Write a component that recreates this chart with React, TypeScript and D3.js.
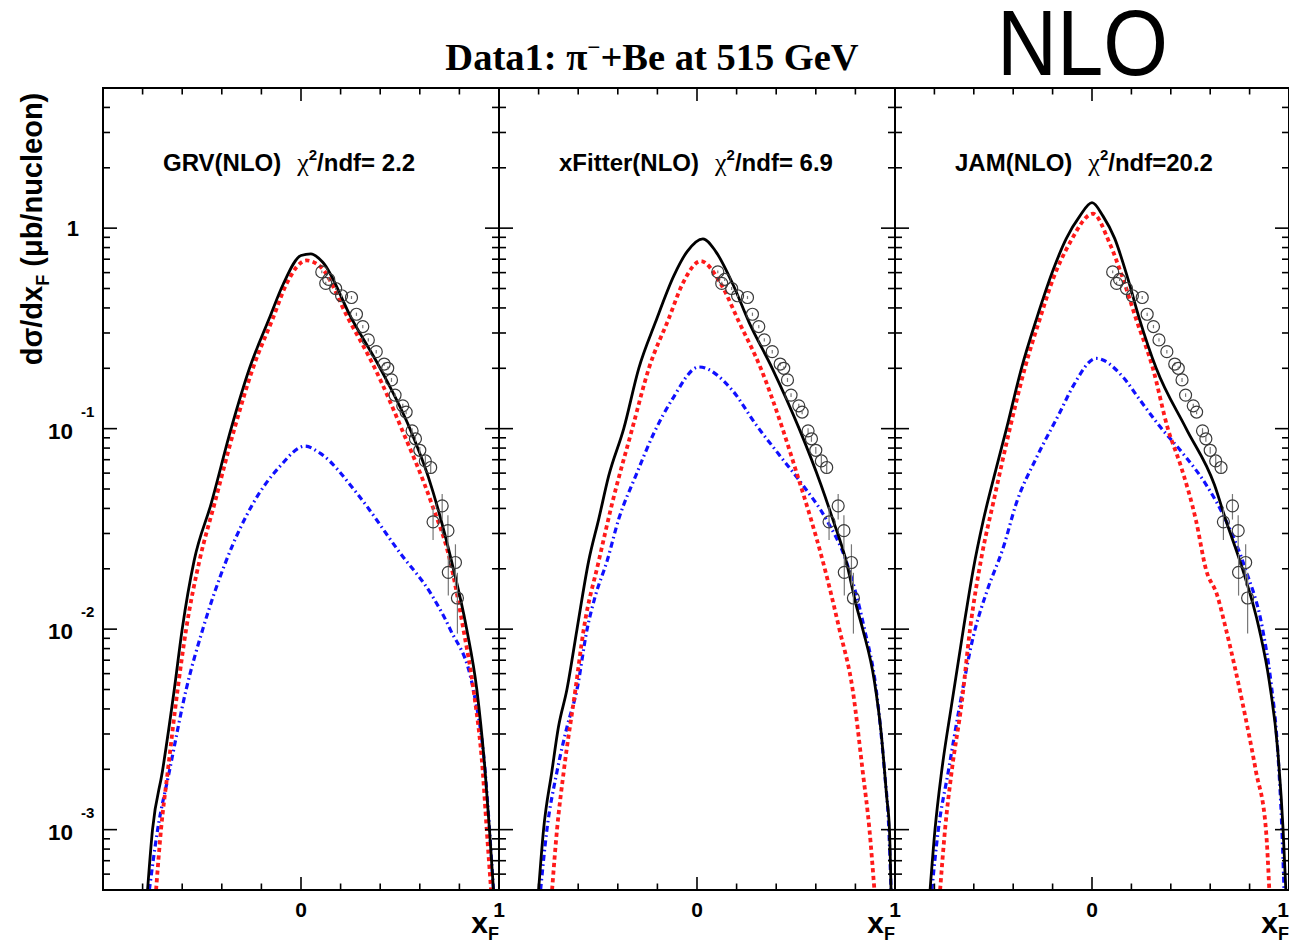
import React from 'react';
import * as d3 from 'd3';

// ---------- labels ----------
const panelNames = ['GRV(NLO)', 'xFitter(NLO)', 'JAM(NLO)'];
const chi2Values = ['= 2.2', '= 6.9', '=20.2'];
const xTickMinor = [-0.8, -0.6, -0.4, -0.2, 0.2, 0.4, 0.6, 0.8];
const xTickMajor = [0];
const yDecades = [1, 0.1, 0.01, 0.001];
const yDecadeExp = ['', '-1', '-2', '-3'];

// ---------- measured data (same in all panels) ----------
const dataX = [0.105, 0.125, 0.14, 0.175, 0.205, 0.255, 0.28, 0.312, 0.34, 0.38, 0.42, 0.438, 0.457, 0.475, 0.514, 0.531, 0.561, 0.578, 0.6, 0.628, 0.655, 0.667, 0.713, 0.742, 0.744, 0.78, 0.79];
const dataY = [0.605, 0.53, 0.555, 0.5, 0.46, 0.451, 0.372, 0.323, 0.277, 0.242, 0.21, 0.2, 0.175, 0.147, 0.13, 0.121, 0.0975, 0.089, 0.078, 0.069, 0.064, 0.0343, 0.0412, 0.031, 0.0192, 0.0215, 0.0143];
const dataErr = [0.01, 0.01, 0.01, 0.009, 0.008, 0.008, 0.007, 0.006, 0.005, 0.005, 0.004, 0.004, 0.004, 0.003, 0.003, 0.003, 0.003, 0.003, 0.003, 0.004, 0.004, 0.0065, 0.006, 0.006, 0.0045, 0.005, 0.0048];

// ---------- GRV ----------
const grvTotalX = [-0.775, -0.75, -0.7, -0.64, -0.6, -0.54, -0.454, -0.353, -0.26, -0.16, -0.09, 0.0, 0.05, 0.11, 0.255, 0.4, 0.55, 0.643, 0.76, 0.837, 0.888, 0.93, 0.952, 0.972];
const grvTotalV = [0.0005, 0.001, 0.00195, 0.005, 0.01, 0.0219, 0.0422, 0.1, 0.2, 0.355, 0.525, 0.73, 0.745, 0.676, 0.355, 0.2, 0.1, 0.0575, 0.0219, 0.01, 0.005, 0.00195, 0.001, 0.0005];
const grvQqX = [-0.732, -0.707, -0.673, -0.623, -0.58, -0.513, -0.437, -0.336, -0.243, -0.142, -0.074, 0.027, 0.1, 0.238, 0.373, 0.508, 0.66, 0.753, 0.82, 0.871, 0.918, 0.938, 0.96];
const grvQqV = [0.0005, 0.001, 0.00195, 0.005, 0.01, 0.0219, 0.0422, 0.1, 0.2, 0.355, 0.525, 0.69, 0.64, 0.355, 0.2, 0.1, 0.0422, 0.0219, 0.01, 0.005, 0.00195, 0.001, 0.0005];
const grvQgX = [-0.766, -0.724, -0.665, -0.58, -0.496, -0.378, -0.243, -0.108, 0.02, 0.1, 0.28, 0.5, 0.66, 0.753, 0.87, 0.93, 0.952, 0.972];
const grvQgV = [0.0005, 0.001, 0.00195, 0.005, 0.01, 0.0219, 0.0422, 0.0646, 0.0818, 0.075, 0.0479, 0.024, 0.0148, 0.01, 0.005, 0.00195, 0.001, 0.0005];

// ---------- xFitter ----------
const xfTotalX = [-0.8, -0.775, -0.733, -0.7, -0.657, -0.606, -0.547, -0.496, -0.446, -0.37, -0.294, -0.21, -0.116, -0.05, 0.03, 0.095, 0.18, 0.263, 0.38, 0.516, 0.626, 0.685, 0.753, 0.803, 0.837, 0.896, 0.93, 0.958, 0.972, 0.98];
const xfTotalV = [0.0005, 0.001, 0.00195, 0.00324, 0.005, 0.01, 0.0219, 0.0355, 0.0581, 0.1, 0.2, 0.339, 0.582, 0.764, 0.885, 0.764, 0.528, 0.339, 0.2, 0.1, 0.0525, 0.0355, 0.0219, 0.0133, 0.01, 0.0055, 0.00305, 0.00146, 0.001, 0.0005];
const xfQqX = [-0.732, -0.707, -0.673, -0.614, -0.572, -0.496, -0.429, -0.327, -0.243, -0.142, -0.074, 0.019, 0.12, 0.213, 0.322, 0.432, 0.508, 0.575, 0.635, 0.719, 0.786, 0.837, 0.871, 0.896];
const xfQqV = [0.0005, 0.001, 0.00195, 0.005, 0.01, 0.0219, 0.0422, 0.1, 0.2, 0.355, 0.525, 0.685, 0.528, 0.339, 0.2, 0.1, 0.0581, 0.0355, 0.0219, 0.01, 0.005, 0.00195, 0.001, 0.0005];
const xfQgX = [-0.79, -0.758, -0.707, -0.657, -0.606, -0.555, -0.513, -0.454, -0.395, -0.31, -0.218, -0.125, 0.01, 0.179, 0.297, 0.415, 0.533, 0.651, 0.753, 0.846, 0.905, 0.947, 0.969, 0.98];
const xfQgV = [0.0005, 0.001, 0.00195, 0.00324, 0.005, 0.01, 0.0147, 0.0219, 0.0355, 0.058, 0.0948, 0.14, 0.203, 0.155, 0.105, 0.0741, 0.0525, 0.0355, 0.0219, 0.01, 0.005, 0.00195, 0.001, 0.0005];

// ---------- JAM ----------
const jamTotalX = [-0.822, -0.797, -0.763, -0.712, -0.653, -0.603, -0.552, -0.484, -0.434, -0.358, -0.282, -0.197, -0.13, -0.062, 0.0, 0.056, 0.115, 0.182, 0.241, 0.326, 0.478, 0.621, 0.68, 0.765, 0.849, 0.9, 0.942, 0.97, 0.984];
const jamTotalV = [0.0005, 0.001, 0.00196, 0.00424, 0.01, 0.0198, 0.0348, 0.0646, 0.1, 0.2, 0.352, 0.62, 0.889, 1.148, 1.34, 1.148, 0.889, 0.56, 0.352, 0.2, 0.1, 0.0526, 0.0348, 0.0198, 0.01, 0.00548, 0.00254, 0.001, 0.0005];
const jamQqX = [-0.771, -0.746, -0.712, -0.662, -0.619, -0.56, -0.501, -0.417, -0.341, -0.265, -0.197, -0.113, 0.005, 0.089, 0.157, 0.224, 0.309, 0.385, 0.452, 0.528, 0.579, 0.635, 0.68, 0.765, 0.832, 0.883, 0.9];
const jamQqV = [0.0005, 0.001, 0.00196, 0.00424, 0.01, 0.0231, 0.0428, 0.1, 0.2, 0.352, 0.56, 0.843, 1.18, 0.843, 0.56, 0.352, 0.2, 0.1, 0.0646, 0.0348, 0.0198, 0.0148, 0.01, 0.00424, 0.00196, 0.001, 0.0005];
const jamQgX = [-0.813, -0.78, -0.729, -0.67, -0.603, -0.535, -0.45, -0.383, -0.282, -0.164, -0.096, 0.022, 0.157, 0.241, 0.343, 0.461, 0.579, 0.68, 0.78, 0.866, 0.908, 0.942, 0.964, 0.975];
const jamQgV = [0.0005, 0.001, 0.00196, 0.00424, 0.00916, 0.0153, 0.0256, 0.0428, 0.0716, 0.12, 0.163, 0.224, 0.181, 0.14, 0.103, 0.0753, 0.0526, 0.0348, 0.0198, 0.01, 0.00548, 0.00254, 0.001, 0.0005];

const totals = [[grvTotalX, grvTotalV], [xfTotalX, xfTotalV], [jamTotalX, jamTotalV]];
const qqbars = [[grvQqX, grvQqV], [xfQqX, xfQqV], [jamQqX, jamQqV]];
const qgs = [[grvQgX, grvQgV], [xfQgX, xfQgV], [jamQgX, jamQgV]];

// ---------- layout ----------
const W = 1289;
const H = 944;
const TOP = 88;
const BOTTOM = 890;
const PANEL_EDGES = [103, 499, 895, 1289];
const SANS = "'Liberation Sans', Arial, Helvetica, sans-serif";
const SERIF = "'Liberation Serif', 'Times New Roman', serif";

const yScale = d3.scaleLog().domain([5e-4, 5]).range([BOTTOM, TOP]);

const yTickList: { v: number; major: boolean }[] = [];
for (let k = -4; k <= 0; k++) {
  for (let m = 1; m <= 9; m++) {
    const v = m * Math.pow(10, k);
    if (v >= 5e-4 && v <= 5) yTickList.push({ v, major: m === 1 });
  }
}

function makePath(xs: number[], vs: number[], x: d3.ScaleLinear<number, number>) {
  const line = d3
    .line<number>()
    .x((_, j) => x(xs[j]))
    .y((v) => yScale(v))
    .curve(d3.curveMonotoneX);
  return line(vs) || '';
}

function Panel({ i }: { i: number }) {
  const left = PANEL_EDGES[i];
  const right = PANEL_EDGES[i + 1];
  const x = d3.scaleLinear().domain([-1, 1]).range([left, right]);
  const clipId = `clip${i}`;
  const [tx, tv] = totals[i];
  const [qx, qv] = qqbars[i];
  const [gx, gv] = qgs[i];
  const oneX = Math.min(x(1), W - 6);
  return (
    <g>
      <defs>
        <clipPath id={clipId}>
          <rect x={left} y={TOP} width={right - left} height={BOTTOM - TOP} />
        </clipPath>
      </defs>
      <g clipPath={`url(#${clipId})`}>
        <path d={makePath(gx, gv, x)} fill="none" stroke="#1010ff" strokeWidth={3.2} strokeDasharray="6 3.5 1.6 3.5" />
        <path d={makePath(qx, qv, x)} fill="none" stroke="#ff1a1a" strokeWidth={3.8} strokeDasharray="4.2 3.4" />
        <path d={makePath(tx, tv, x)} fill="none" stroke="#000" strokeWidth={2.8} strokeLinejoin="round" />
        {dataX.map((dx, j) => (
          <g key={j}>
            <line
              x1={x(dx)}
              x2={x(dx)}
              y1={yScale(dataY[j] + dataErr[j])}
              y2={yScale(dataY[j] - dataErr[j])}
              stroke="#777"
              strokeWidth={1.2}
            />
            <circle cx={x(dx)} cy={yScale(dataY[j])} r={6} fill="none" stroke="#3a3a3a" strokeWidth={1.2} />
          </g>
        ))}
      </g>
      {/* frame */}
      <rect x={left} y={TOP} width={right - left} height={BOTTOM - TOP} fill="none" stroke="#000" strokeWidth={2} />
      {/* y ticks left and right */}
      {yTickList.map((t, j) => {
        const yy = yScale(t.v);
        const len = t.major ? 14 : 7;
        return (
          <g key={`yt${j}`}>
            <line x1={left} x2={left + len} y1={yy} y2={yy} stroke="#000" strokeWidth={1.6} />
            <line x1={right} x2={right - len} y1={yy} y2={yy} stroke="#000" strokeWidth={1.6} />
          </g>
        );
      })}
      {/* x ticks top and bottom */}
      {xTickMinor.concat(xTickMajor).map((t, j) => {
        const xx = x(t);
        const len = t === 0 ? 13 : 6.5;
        return (
          <g key={`xt${j}`}>
            <line x1={xx} x2={xx} y1={BOTTOM} y2={BOTTOM - len} stroke="#000" strokeWidth={1.6} />
            <line x1={xx} x2={xx} y1={TOP} y2={TOP + len} stroke="#000" strokeWidth={1.6} />
          </g>
        );
      })}
      {/* x labels */}
      <text x={x(0)} y={917} textAnchor="middle" fontFamily={SANS} fontWeight="bold" fontSize={21}>0</text>
      <text x={oneX} y={917} textAnchor="middle" fontFamily={SANS} fontWeight="bold" fontSize={21}>1</text>
      <text x={x(1) - 11} y={933} textAnchor="end" fontFamily={SANS} fontWeight="bold" fontSize={30}>x</text>
      <text x={x(1) - 11} y={940} textAnchor="start" fontFamily={SANS} fontWeight="bold" fontSize={18}>F</text>
      {/* panel label */}
      <text x={left + 60} y={171} fontFamily={SANS} fontWeight="bold" fontSize={24}>
        <tspan>{panelNames[i]}</tspan>
        <tspan dx={16} fontFamily={SERIF} fontWeight="normal" fontSize={26}>χ</tspan>
        <tspan dy={-11} fontSize={15}>2</tspan>
        <tspan dy={11}>/ndf{chi2Values[i]}</tspan>
      </text>
    </g>
  );
}

export default function App() {
  return (
    <svg
      width={W}
      height={H}
      viewBox={`0 0 ${W} ${H}`}
      style={{ position: 'absolute', left: 0, top: 0, background: '#fff' }}
    >
      <rect x={0} y={0} width={W} height={H} fill="#fff" />
      {[0, 1, 2].map((i) => (
        <Panel key={i} i={i} />
      ))}
      {/* y tick labels */}
      {yDecades.map((v, j) =>
        j === 0 ? (
          <text key={j} x={79} y={yScale(v) + 8} textAnchor="end" fontFamily={SANS} fontWeight="bold" fontSize={22}>1</text>
        ) : (
          <g key={j}>
            <text x={73} y={yScale(v) + 10} textAnchor="end" fontFamily={SANS} fontWeight="bold" fontSize={22.5}>10</text>
            <text x={81} y={yScale(v) - 12} textAnchor="start" fontFamily={SANS} fontWeight="bold" fontSize={15}>{yDecadeExp[j]}</text>
          </g>
        )
      )}
      {/* y axis title */}
      <text transform="translate(42,229) rotate(-90)" textAnchor="middle" fontFamily={SANS} fontWeight="bold" fontSize={29}>
        <tspan>dσ/dx</tspan>
        <tspan dy={7} fontSize={18}>F</tspan>
        <tspan dy={-7}> (μb/nucleon)</tspan>
      </text>
      {/* title */}
      <text x={652} y={70} textAnchor="middle" fontFamily={SERIF} fontWeight="bold" fontSize={38.5}>
        <tspan>Data1: π</tspan>
        <tspan dy={-15} fontSize={23}>−</tspan>
        <tspan dy={15}>+Be at 515 GeV</tspan>
      </text>
      <text x={997} y={75} fontFamily={SANS} fontSize={92} textLength={171} lengthAdjust="spacingAndGlyphs">NLO</text>
    </svg>
  );
}
